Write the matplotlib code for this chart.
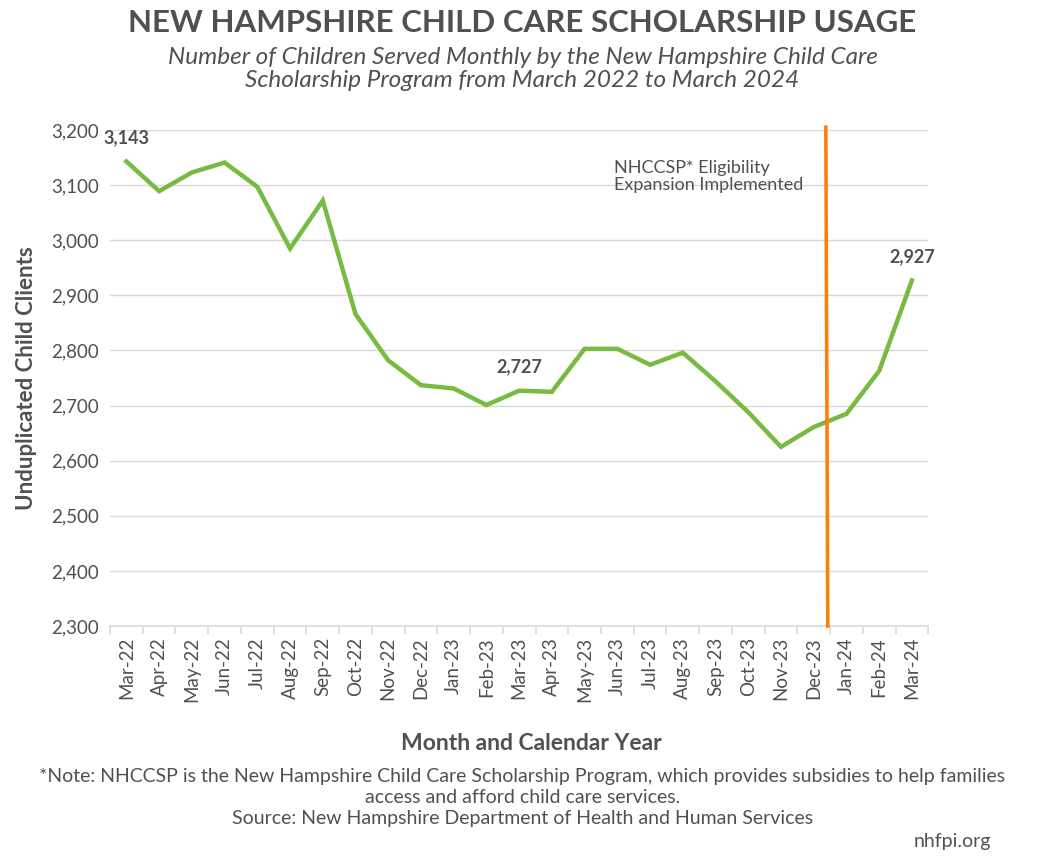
import matplotlib.pyplot as plt

# Data
months = ['Mar-22', 'Apr-22', 'May-22', 'Jun-22', 'Jul-22', 'Aug-22', 'Sep-22',
          'Oct-22', 'Nov-22', 'Dec-22', 'Jan-23', 'Feb-23', 'Mar-23', 'Apr-23',
          'May-23', 'Jun-23', 'Jul-23', 'Aug-23', 'Sep-23', 'Oct-23', 'Nov-23',
          'Dec-23', 'Jan-24', 'Feb-24', 'Mar-24']
clients = [3143, 3089, 3123, 3141, 3097, 2985, 3072,
           2866, 2782, 2737, 2731, 2701, 2727, 2725,
           2803, 2803, 2774, 2796, 2744, 2688, 2625,
           2661, 2685, 2763, 2927]
labeled = ['Mar-22', 'Mar-23', 'Mar-24']
y_ticks = [2300, 2400, 2500, 2600, 2700, 2800, 2900, 3000, 3100, 3200]
# expansion marker sits between Dec-23 and Jan-24 (slightly slanted in original)
expansion_x_top = 21.37
expansion_x_bottom = 21.43

text_color = '#505050'
green = '#77bb41'
orange = '#fc8008'
plt.rcParams['font.family'] = ['Lato', 'DejaVu Sans']

fig = plt.figure(figsize=(10.45, 8.6), dpi=100)
ax = fig.add_axes([0.1053, 0.2721, 0.783, 0.5767])

x = list(range(len(months)))
ax.plot(x, clients, color=green, linewidth=3.2, solid_joinstyle='miter', zorder=3)

# Data labels
for m in labeled:
    i = months.index(m)
    ax.text(i, clients[i] + 28, f'{clients[i]:,}', ha='center', va='bottom',
            fontsize=13, fontweight='bold', color=text_color, zorder=4)

# Expansion line
ax.plot([expansion_x_top, expansion_x_bottom], [3205, 2300], color=orange,
        linewidth=2.6, zorder=4, clip_on=False)
ax.text(14.9, 3146, 'NHCCSP* Eligibility\nExpansion Implemented', ha='left',
        va='top', fontsize=13, color=text_color, linespacing=1.1)

ax.set_xlim(-0.5, len(months) - 0.5)
ax.set_ylim(2300, 3200)
ax.set_yticks(y_ticks)
ax.set_yticklabels([f'{v:,}' for v in y_ticks])
ax.set_xticks(x)
ax.set_xticklabels(months, rotation=90)
ax.set_xticks([i - 0.5 for i in range(len(months) + 1)], minor=True)

ax.grid(axis='y', color='#d9d9d9', linewidth=1)
ax.set_axisbelow(True)
for s in ['top', 'right', 'left']:
    ax.spines[s].set_visible(False)
ax.spines['bottom'].set_color('#d9d9d9')
ax.spines['bottom'].set_linewidth(1.2)
ax.tick_params(axis='y', length=0, pad=8, labelsize=13.5, labelcolor=text_color)
ax.tick_params(axis='x', which='major', length=0, pad=8, labelsize=13.5, labelcolor=text_color)
ax.tick_params(axis='x', which='minor', length=6, color='#d9d9d9', width=1.2)

ax.set_ylabel('Unduplicated Child Clients', fontsize=16, fontweight='bold',
              color=text_color, labelpad=10)
ax.set_xlabel('Month and Calendar Year', fontsize=16.5, fontweight='bold',
              color=text_color, labelpad=20)
ax.xaxis.set_label_coords(0.515, -0.215)

# Titles and notes
fig.text(0.5, 0.973, 'NEW HAMPSHIRE CHILD CARE SCHOLARSHIP USAGE', ha='center',
         va='center', fontsize=22.5, fontweight='bold', color=text_color)
fig.text(0.5, 0.92, 'Number of Children Served Monthly by the New Hampshire Child Care\n'
         'Scholarship Program from March 2022 to March 2024', ha='center',
         va='center', fontsize=17.5, style='italic', color=text_color, linespacing=1.1)
fig.text(0.5, 0.073, '*Note: NHCCSP is the New Hampshire Child Care Scholarship Program, '
         'which provides subsidies to help families\naccess and afford child care services.\n'
         'Source: New Hampshire Department of Health and Human Services',
         ha='center', va='center', fontsize=14, color=text_color, linespacing=1.28)
fig.text(0.948, 0.021, 'nhfpi.org', ha='right', va='center', fontsize=14,
         color=text_color)

fig.savefig('out.png', dpi=100)
